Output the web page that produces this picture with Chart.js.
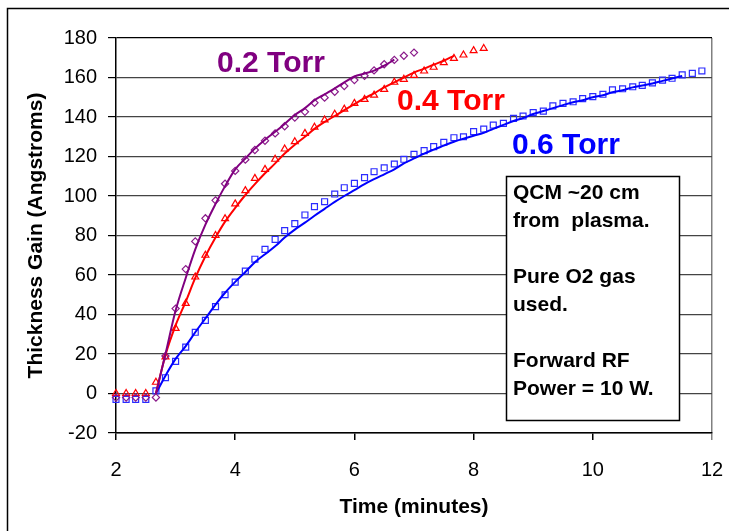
<!DOCTYPE html>
<html><head><meta charset="utf-8">
<script src="https://cdn.jsdelivr.net/npm/chart.js@4/dist/chart.umd.min.js"></script>
<style>html,body{margin:0;padding:0;background:#fff;overflow:hidden}</style>
</head><body>
<canvas id="c" width="729" height="531"></canvas>
<script>
// ---- data (time in minutes, thickness gain in Angstroms) ----
const time02 = [2.0,2.17,2.33,2.5,2.67,2.83,3.0,3.17,3.33,3.5,3.67,3.83,4.0,4.17,4.33,4.5,4.67,4.83,5.0,5.17,5.33,5.5,5.67,5.83,6.0,6.17,6.33,6.5,6.67,6.83,7.0];
const gain02 = [-2,-2,-2,-2,-2,19,43,63,77,88.7,97.8,106.2,112.7,118.4,123.3,128,131.7,135.3,139.7,142.6,147.2,149.8,152.8,155.7,158.7,160.9,163.6,166.7,168.9,171,172.6];
const time04 = [2.0,2.17,2.33,2.5,2.67,2.83,3.0,3.17,3.33,3.5,3.67,3.83,4.0,4.17,4.33,4.5,4.67,4.83,5.0,5.17,5.33,5.5,5.67,5.83,6.0,6.17,6.33,6.5,6.67,6.83,7.0,7.17,7.33,7.5,7.67,7.83,8.0,8.17];
const gain04 = [0,0,0,0,5.7,18.5,33,45.6,59,70,80,88.5,96,102.7,108.9,113.5,118.6,123.8,127.5,131.7,134.8,138.5,141.4,144,146.9,148.9,151.1,154,157.6,159.1,161.1,163.3,165.2,167.5,169.7,171.4,173.6,174.7];
const time06 = [2.0,2.17,2.33,2.5,2.67,2.83,3.0,3.17,3.33,3.5,3.67,3.83,4.0,4.17,4.33,4.5,4.67,4.83,5.0,5.17,5.33,5.5,5.67,5.83,6.0,6.17,6.33,6.5,6.67,6.83,7.0,7.17,7.33,7.5,7.67,7.83,8.0,8.17,8.33,8.5,8.67,8.83,9.0,9.17,9.33,9.5,9.67,9.83,10.0,10.17,10.33,10.5,10.67,10.83,11.0,11.17,11.33,11.5,11.67,11.83];
const gain06 = [-3,-3,-3,-3,1.3,8,16.3,23.5,31,37,44,50,56.4,62,68,73,78,82.5,86,90.4,94.6,97.1,101,104.2,106.4,109.3,112.3,114.3,116.2,118.6,121.1,123,125,127.2,129.5,130,132.6,133.9,135.9,136.8,139.3,140.5,142.2,143,145.6,146.9,147.7,149.3,150.3,151.5,153.7,154.3,155.3,156,157.3,158.7,159.6,161.3,162.1,163.3];
// fitted curves
const fitTime02 = [2.67,2.83,3.0,3.17,3.33,3.5,3.67,3.83,4.0,4.17,4.33,4.5,4.67,4.83,5.0,5.17,5.33,5.5,5.67,5.83,6.0,6.17,6.33,6.5,6.67];
const fit02 = [0,20,42,58.5,73,85.5,96,105,113.5,119,124,128.5,132.5,136.5,141,144.5,148.5,151.5,154.5,157.5,160.5,162,163.5,166,169];
const fitTime04 = [2.67,2.83,3.0,3.17,3.33,3.5,3.67,3.83,4.0,4.17,4.33,4.5,4.67,4.83,5.0,5.17,5.33,5.5,5.67,5.83,6.0,6.17,6.33,6.5,6.67,6.83,7.0,7.17,7.33,7.5,7.67];
const fit04 = [0,19.5,34.5,46.5,58.5,69.5,79,87,94,100.5,106,111.5,116.5,121.5,126,130,134,137.5,140.5,143.5,146.5,149.5,152,155,157.5,160,162.5,164.5,166.5,168.5,171];
const fitTime06 = [2.67,2.83,3.0,3.17,3.33,3.5,3.67,3.83,4.0,4.17,4.33,4.5,4.67,4.83,5.0,5.17,5.33,5.5,5.67,5.83,6.0,6.17,6.33,6.5,6.67,6.83,7.0,7.17,7.33,7.5,7.67,7.83,8.0,8.17,8.33,8.5,8.67,8.83,9.0,9.17,9.33,9.5,9.67,9.83,10.0,10.17,10.33,10.5,10.67,10.83,11.0,11.17,11.33,11.5];
const fit06 = [0,9,17.5,24,31,38,45,51,56.5,61.5,66.5,70.5,74.5,79,83,86.5,90,93.5,97,100,103,106,108.5,111,113.5,116.5,119,121.5,123.5,125.5,127.5,129,130.5,132,134,136,138,139.5,141.5,143,144.5,146,147.5,148.5,150,151,152.5,153.5,155,156,157,158.3,159.5,160.8];
const xTicks = [2,4,6,8,10,12];
const yTicks = [-20,0,20,40,60,80,100,120,140,160,180];
const seriesLabels = ['0.2 Torr','0.4 Torr','0.6 Torr'];
const noteLines = ['QCM ~20 cm','from  plasma.','','Pure O2 gas','used.','','Forward RF','Power = 10 W.'];
const xTitle = 'Time (minutes)';
const yTitle = 'Thickness Gain (Angstroms)';

const FONT = "'Liberation Sans', Arial, Helvetica, sans-serif";
const pts = (xs, ys) => xs.map((x, i) => ({x, y: ys[i]}));
const PURPLE = '#800080', RED = '#ff0000', BLUE = '#0000ff';

function markerSet(label, xs, ys, color, style, r) {
  return {label, data: pts(xs, ys), showLine: false, pointStyle: style, pointRadius: r,
    pointBorderColor: color, pointBackgroundColor: 'rgba(0,0,0,0)', pointBorderWidth: 1.2, clip: false};
}
function lineSet(label, xs, ys, color) {
  return {label, data: pts(xs, ys), showLine: true, borderColor: color, borderWidth: 2,
    pointRadius: 0, tension: 0.3, cubicInterpolationMode: 'monotone', fill: false, clip: false};
}

const decor = {
  id: 'decor',
  afterDraw(chart) {
    const ctx = chart.ctx;
    ctx.save();
    // outer frame
    ctx.strokeStyle = '#000'; ctx.lineWidth = 1.5;
    ctx.strokeRect(7.5, 8.5, 760, 560);
    // series labels
    ctx.font = 'bold 30px ' + FONT;
    ctx.textBaseline = 'middle'; ctx.textAlign = 'left';
    const lab = [[seriesLabels[0], 217, 64, PURPLE],[seriesLabels[1], 397, 102, RED],[seriesLabels[2], 512, 146, BLUE]];
    lab.forEach(([t,x,y,c]) => { ctx.fillStyle = c; ctx.fillText(t, x, y); });
    // note box
    ctx.fillStyle = '#fff';
    ctx.fillRect(506.5, 176.5, 173, 244);
    ctx.strokeStyle = '#000'; ctx.lineWidth = 1.5;
    ctx.strokeRect(506.5, 176.5, 173, 244);
    ctx.fillStyle = '#000';
    ctx.font = 'bold 21px ' + FONT;
    noteLines.forEach((t, i) => { if (t) ctx.fillText(t, 513, 193.5 + i * 27.9); });
    ctx.restore();
  }
};

new Chart(document.getElementById('c'), {
  type: 'scatter',
  data: {
    datasets: [
      lineSet('fit 0.2', fitTime02, fit02, PURPLE),
      lineSet('fit 0.4', fitTime04, fit04, RED),
      lineSet('fit 0.6', fitTime06, fit06, BLUE),
      markerSet(seriesLabels[0], time02, gain02, '#8a1a8a', 'rectRot', 3.6),
      markerSet(seriesLabels[1], time04, gain04, RED, 'triangle', 4),
      markerSet(seriesLabels[2], time06, gain06, '#2b2bff', 'rect', 4.2)
    ]
  },
  options: {
    responsive: false, animation: false, devicePixelRatio: 1,
    layout: {padding: {left: 0, top: 38, right: 17, bottom: 0}},
    plugins: {legend: {display: false}, tooltip: {enabled: false}},
    scales: {
      x: {
        type: 'linear', min: 2, max: 12,
        afterBuildTicks: (s) => { s.ticks = xTicks.map(v => ({value: v})); },
        afterFit: (s) => { s.height = 98; s.paddingLeft = 0; s.paddingRight = 0; },
        ticks: {font: {family: FONT, size: 20}, color: '#000', padding: 18},
        grid: {drawOnChartArea: true, drawTicks: true, tickLength: 7, lineWidth: 1.5,
          color: (c) => (c.tick && c.tick.value === 12) ? '#808080' : 'rgba(0,0,0,0)',
          tickColor: (c) => (c.tick && c.tick.value === 12) ? '#808080' : '#000'},
        border: {display: true, color: '#000', width: 1.5},
        title: {display: true, text: xTitle, color: '#000', font: {family: FONT, size: 21, weight: 'bold'}, padding: {top: 11, bottom: 11}}
      },
      y: {
        type: 'linear', min: -20, max: 180,
        afterBuildTicks: (s) => { s.ticks = yTicks.map(v => ({value: v})); },
        afterFit: (s) => { s.width = 116; s.paddingTop = 0; s.paddingBottom = 0; },
        ticks: {font: {family: FONT, size: 20}, color: '#000', padding: 11},
        grid: {color: (c) => (c.tick && c.tick.value === 180) ? '#000' : '#444', lineWidth: 1.2, tickLength: 8, tickColor: '#000'},
        border: {display: true, color: '#000', width: 1.5},
        title: {display: true, text: yTitle, color: '#000', font: {family: FONT, size: 21, weight: 'bold'}, padding: {top: 24, bottom: 0}}
      }
    }
  },
  plugins: [decor]
});
</script>
</body></html>
